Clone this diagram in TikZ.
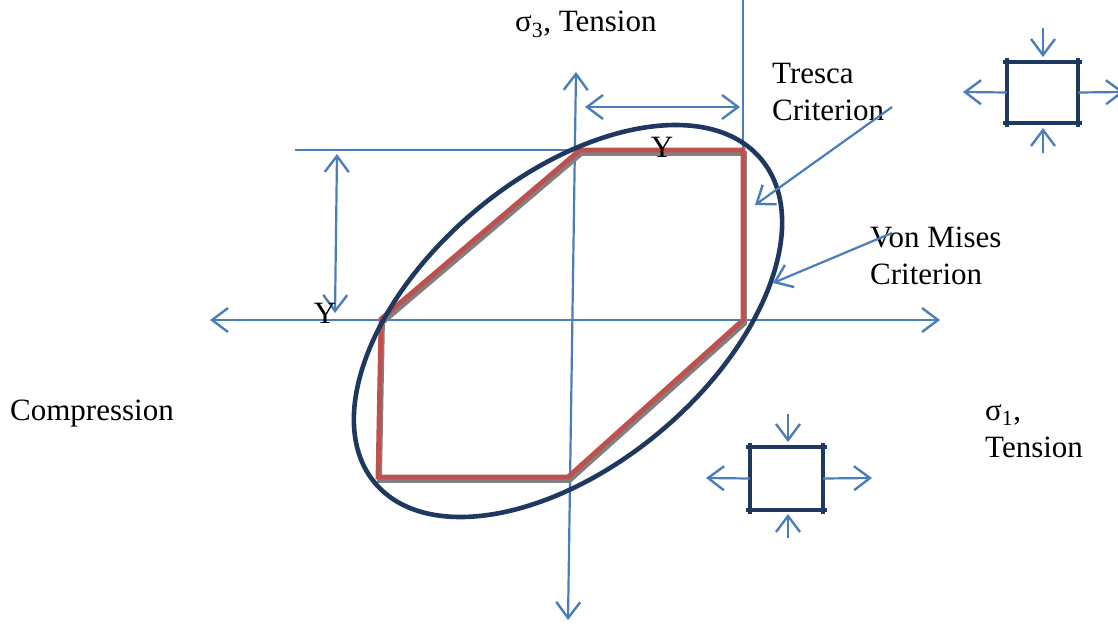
\documentclass[tikz,border=0pt]{standalone}
\usepackage{fontspec}
\setmainfont{Liberation Serif}
\usetikzlibrary{arrows.meta}
\definecolor{axisblue}{RGB}{74,126,187}
\definecolor{navyc}{RGB}{31,56,96}
\definecolor{tred}{RGB}{192,80,77}
\definecolor{shadowgray}{RGB}{128,128,128}
\begin{document}
\begin{tikzpicture}[x=1pt,y=-1pt,
  lbl/.style={font=\fontsize{31}{37}\selectfont, inner sep=0pt, align=left},
  ax/.style={draw=axisblue, line width=2.2pt},
  thin/.style={draw=axisblue, line width=1.5pt},
  tipe/.style={-{Straight Barb[length=16pt,width=24pt,line width=2.4pt]}},
  tipb/.style={{Straight Barb[length=16pt,width=24pt,line width=2.4pt]}-{Straight Barb[length=16pt,width=24pt,line width=2.4pt]}},
  stressbox/.style={inner sep=0pt, minimum width=#1},
  side/.style={draw=navyc, line width=4.5pt},
  hexred/.style={draw=tred, line width=4.8pt, line join=miter},
  hexshadow/.style={draw=shadowgray, line width=4.8pt, line join=miter},
]
\useasboundingbox (0,0) rectangle (1118,626);
\fill[white] (0,0) rectangle (1118,626);

% axes
\coordinate (hl) at (210,320);
\coordinate (hr) at (940,320);
\coordinate (vt) at (576,72);
\coordinate (vb) at (568,620);
\draw[ax,tipb] (hl) -- (hr);
\draw[ax,tipb] (vb) -- (vt);

% hexagon corners
\coordinate (p1) at (580,150);
\coordinate (p2) at (743,150);
\coordinate (p3) at (743,320);
\coordinate (p4) at (568,477);
\coordinate (p5) at (378,477);
\coordinate (p6) at (381,319);

% reference lines
\coordinate (vtop) at (743,0);
\coordinate (hleft) at (295,150);
\draw[thin] (vtop) -- (p2);
\draw[thin] (hleft) -- (p1);

% dimension arrows
\coordinate (dv1) at (337,154);
\coordinate (dv2) at (335,313);
\draw[ax,tipb] (dv1) -- (dv2);
\coordinate (dh1) at (585,107);
\coordinate (dh2) at (740,107);
\draw[ax,tipb] (dh1) -- (dh2);

% Tresca hexagon
\begin{scope}[transform canvas={shift={(1.5,3.5)}}]
\draw[hexshadow] (p1) -- (p2) -- (p3) -- (p4) -- (p5) -- (p6) -- cycle;
\end{scope}
\draw[hexred] (p1) -- (p2) -- (p3) -- (p4) -- (p5) -- (p6) -- cycle;

% von Mises ellipse
\coordinate (ec) at (568,321);
\draw[navyc, line width=4.6pt] (ec) ellipse [x radius=252, y radius=144, rotate=40];

% labels
\node[lbl, anchor=base west] (s3) at (515,32) {σ\textsubscript{3}, Tension};
\node[lbl, anchor=base west] (tres) at (772,120) {Tresca\\Criterion};
\node[lbl, anchor=base west] (vm) at (870,284) {Von Mises\\Criterion};
\node[lbl, anchor=base west] (comp) at (10,420) {Compression};
\node[lbl, anchor=base west] (s1) at (985,457) {σ\textsubscript{1},\\Tension};
\node[lbl, anchor=base] (y1) at (325,323) {Y};
\node[lbl, anchor=base] (y2) at (662,157) {Y};

% pointer arrows
\coordinate (ts) at (892,107);
\coordinate (tt) at (755,205);
\draw[ax,tipe] (ts) -- (tt);
\coordinate (ms) at (892,233);
\coordinate (mt) at (773,283);
\draw[ax,tipe] (ms) -- (mt);

% stress element, upper right
\node[stressbox=71pt, minimum height=61pt] (sqa) at (1042.5,92.5) {};
\draw[side] ([xshift=-4pt]sqa.north west) -- ([xshift=4pt]sqa.north east);
\draw[side] ([xshift=-4pt]sqa.south west) -- ([xshift=4pt]sqa.south east);
\draw[side] ([yshift=4pt]sqa.north west) -- ([yshift=-4pt]sqa.south west);
\draw[side] ([yshift=4pt]sqa.north east) -- ([yshift=-4pt]sqa.south east);
\coordinate (sqa-t) at (1043,28);
\coordinate (sqa-tt) at (1043,57);
\coordinate (sqa-b) at (1043,153);
\coordinate (sqa-bt) at (1043,128);
\coordinate (sqa-l) at (963,92);
\coordinate (sqa-r) at (1124,92);
\draw[ax,tipe] (sqa-t) -- (sqa-tt);
\draw[ax,tipe] (sqa-b) -- (sqa-bt);
\draw[ax,tipe] (sqa.west) -- (sqa-l);
\draw[ax,tipe] (sqa.east) -- (sqa-r);

% stress element, lower
\node[stressbox=73pt, minimum height=63pt] (sqb) at (786.5,478.5) {};
\draw[side] ([xshift=-4pt]sqb.north west) -- ([xshift=4pt]sqb.north east);
\draw[side] ([xshift=-4pt]sqb.south west) -- ([xshift=4pt]sqb.south east);
\draw[side] ([yshift=4pt]sqb.north west) -- ([yshift=-4pt]sqb.south west);
\draw[side] ([yshift=4pt]sqb.north east) -- ([yshift=-4pt]sqb.south east);
\coordinate (sqb-t) at (788,414);
\coordinate (sqb-tt) at (788,442);
\coordinate (sqb-b) at (788,538);
\coordinate (sqb-bt) at (788,514);
\coordinate (sqb-l) at (706,478);
\coordinate (sqb-r) at (872,478);
\draw[ax,tipe] (sqb-t) -- (sqb-tt);
\draw[ax,tipe] (sqb-b) -- (sqb-bt);
\draw[ax,tipe] (sqb.west) -- (sqb-l);
\draw[ax,tipe] (sqb.east) -- (sqb-r);
\end{tikzpicture}
\end{document}
